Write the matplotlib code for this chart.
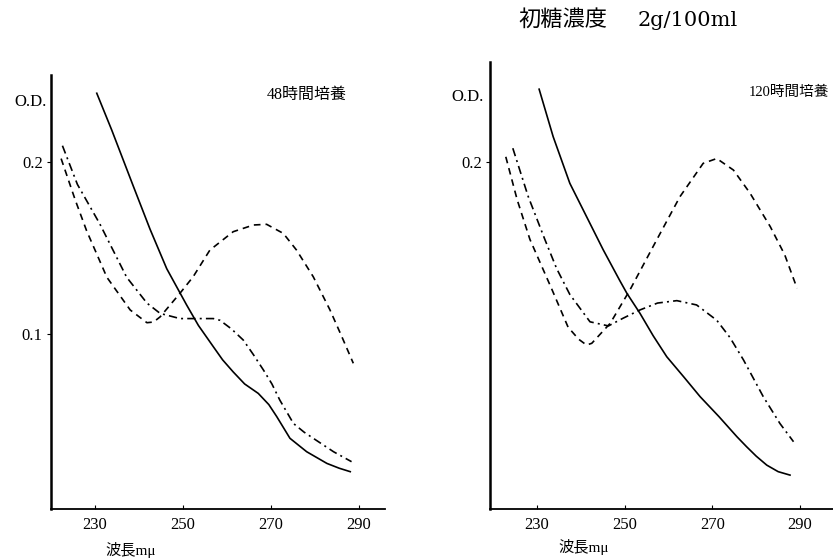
import matplotlib
matplotlib.use('Agg')
import matplotlib.pyplot as plt

plt.rcParams['font.family'] = ['Liberation Serif', 'Noto Sans CJK JP', 'DejaVu Sans']

# 48 h culture (left panel)
wl_48_solid = [230.4, 233.8, 238.7, 242.5, 246.3, 249.3, 250.8, 253.5, 256.9, 259.0, 261.4, 264.0,
               267.1, 269.5, 271.3, 274.3, 278.1, 282.7, 285.5, 288.0]
od_48_solid = [0.240, 0.2186, 0.186, 0.161, 0.138, 0.124, 0.117, 0.105, 0.0926, 0.085, 0.078, 0.071,
               0.0655, 0.059, 0.052, 0.0394, 0.0316, 0.0248, 0.022, 0.020]

wl_48_dashdot = [222.6, 226.0, 231.1, 237.2, 241.8, 244.8, 249.3, 253.0, 256.9, 258.4, 261.0, 263.7,
                 266.0, 268.3, 270.2, 272.0, 275.1, 277.5, 279.6, 284.2, 288.3]
od_48_dashdot = [0.2095, 0.187, 0.164, 0.133, 0.118, 0.112, 0.109, 0.109, 0.109, 0.108, 0.103, 0.0965,
                 0.088, 0.079, 0.071, 0.0616, 0.048, 0.043, 0.0394, 0.0316, 0.0258]

wl_48_dashed = [222.3, 225.5, 228.1, 232.7, 238.0, 241.8, 243.3, 244.8, 249.3, 252.3, 256.1, 261.4,
                266.0, 269.0, 272.8, 275.8, 279.6, 283.4, 286.0, 288.7]
od_48_dashed = [0.202, 0.178, 0.160, 0.133, 0.114, 0.1066, 0.107, 0.110, 0.1237, 0.1333, 0.1488, 0.1595,
                0.1634, 0.1638, 0.1585, 0.1488, 0.1333, 0.114, 0.099, 0.083]

# 120 h culture (right panel)
wl_120_solid = [230.5, 233.7, 237.5, 245.1, 248.9, 250.5, 253.5, 256.5, 259.6, 263.5, 267.2,
                271.5, 275.6, 277.8, 280.0, 282.4, 285.0, 287.7]
od_120_solid = [0.2423, 0.2147, 0.1876, 0.149, 0.131, 0.1237, 0.112, 0.099, 0.0868, 0.075, 0.0636,
                0.052, 0.0403, 0.0345, 0.029, 0.0238, 0.020, 0.018]

wl_120_dashdot = [224.5, 228.0, 231.8, 234.5, 237.5, 242.1, 246.3, 249.5, 253.5, 257.5, 261.9, 266.4,
                  271.0, 274.0, 277.1, 281.6, 285.4, 288.5]
od_120_dashdot = [0.208, 0.180, 0.155, 0.138, 0.123, 0.1071, 0.1047, 0.109, 0.114, 0.118, 0.1194, 0.1169,
                  0.108, 0.098, 0.0849, 0.0636, 0.048, 0.0374]

wl_120_dashed = [222.9, 225.5, 228.4, 233.4, 237.1, 239.5, 241.3, 242.5, 246.7, 251.2, 257.3, 262.6,
                 267.9, 271.0, 274.8, 278.6, 283.2, 286.5, 289.3]
od_120_dashed = [0.203, 0.178, 0.155, 0.126, 0.104, 0.097, 0.0936, 0.0946, 0.1062, 0.1256, 0.1547, 0.1798,
                 0.1992, 0.202, 0.1953, 0.1818, 0.1624, 0.146, 0.1266]

xticks = [230, 250, 270, 290]

W, H = 833, 560
fig = plt.figure(figsize=(W / 100, H / 100), dpi=100)

def px_axes(x0, y0, x1, y1):
    return fig.add_axes([x0 / W, 1 - y1 / H, (x1 - x0) / W, (y1 - y0) / H])

ax1 = px_axes(51, 75, 385, 509)
ax2 = px_axes(490, 62, 833, 509)

def draw(ax, solid, dashdot, dashed):
    ax.plot(*solid, color='black', lw=1.2)
    ax.plot(*dashdot, color='black', lw=1.2, dashes=(5, 2.5, 1.2, 2.5))
    ax.plot(*dashed, color='black', lw=1.2, dashes=(4, 3))
    for s in ['top', 'right']:
        ax.spines[s].set_visible(False)
    ax.spines['left'].set_linewidth(1.8)
    ax.spines['bottom'].set_linewidth(1.3)
    ax.set_xticks(xticks)
    ax.tick_params(axis='x', direction='in', length=3, labelsize=12, pad=6)
    ax.tick_params(axis='y', direction='out', length=3, labelsize=12, pad=3)

draw(ax1, (wl_48_solid, od_48_solid), (wl_48_dashdot, od_48_dashdot), (wl_48_dashed, od_48_dashed))
ax1.set_xlim(220.0, 295.9)
ax1.set_ylim(-0.0017, 0.2506)
ax1.set_yticks([0.1, 0.2])
ax1.set_yticklabels(['0.1', '0.2'])

draw(ax2, (wl_120_solid, od_120_solid), (wl_120_dashdot, od_120_dashdot), (wl_120_dashed, od_120_dashed))
ax2.set_xlim(219.3, 297.5)
ax2.set_ylim(-0.0017, 0.2581)
ax2.set_yticks([0.2])
ax2.set_yticklabels(['0.2'])

# texts
fig.text(518 / W, 1 - 20 / H, '初糖濃度', fontsize=16, va='center', ha='left')
fig.text(638 / W, 1 - 20 / H, '2g/100ml', fontsize=15, family='DejaVu Serif', va='center', ha='left')
fig.text(267 / W, 1 - 95 / H, '48時間培養', fontsize=11.5, va='center', ha='left')
fig.text(829 / W, 1 - 92 / H, '120時間培養', fontsize=10.5, va='center', ha='right')
fig.text(47 / W, 1 - 102 / H, 'O.D.', fontsize=12, va='center', ha='right')
fig.text(484 / W, 1 - 97 / H, 'O.D.', fontsize=12, va='center', ha='right')
fig.text(105 / W, 1 - 550 / H, '波長mμ', fontsize=11, va='center', ha='left')
fig.text(558 / W, 1 - 547 / H, '波長mμ', fontsize=11, va='center', ha='left')

fig.savefig('out.png', dpi=100)
